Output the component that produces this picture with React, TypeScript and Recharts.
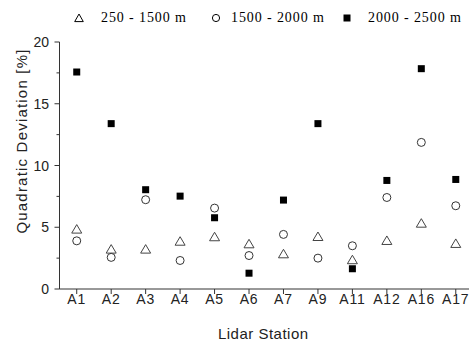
import { ComposedChart, Scatter, XAxis, YAxis } from "recharts";

const stations = ["A1", "A2", "A3", "A4", "A5", "A6", "A7", "A9", "A11", "A12", "A16", "A17"];
// quadratic deviation [%] per altitude band
const band250to1500 = [4.85, 3.23, 3.23, 3.87, 4.23, 3.66, 2.85, 4.25, 2.37, 3.93, 5.33, 3.69];
const band1500to2000 = [3.9, 2.56, 7.23, 2.31, 6.55, 2.71, 4.42, 2.5, 3.5, 7.41, 11.87, 6.74];
const band2000to2500 = [17.57, 13.39, 8.04, 7.52, 5.77, 1.28, 7.2, 13.39, 1.64, 8.79, 17.84, 8.87];
const yTicks = [0, 2.5, 5, 7.5, 10, 12.5, 15, 17.5, 20];

const rows = stations.map((s, i) => ({
  idx: i,
  station: s,
  low: band250to1500[i],
  mid: band1500to2000[i],
  high: band2000to2500[i],
}));

const sans = "'Liberation Sans', Arial, sans-serif";
const serif = "'Liberation Serif', 'Times New Roman', serif";

const Tri = (p: any) => (
  <path
    d={`M${p.cx},${p.cy - 4.5} L${p.cx + 5},${p.cy + 4} L${p.cx - 5},${p.cy + 4} Z`}
    fill="#fff"
    stroke="#444"
    strokeWidth={1}
  />
);
const Circ = (p: any) => <circle cx={p.cx} cy={p.cy} r={4} fill="#fff" stroke="#333" strokeWidth={1} />;
const Sq = (p: any) => <rect x={p.cx - 3.5} y={p.cy - 3.5} width={7} height={7} fill="#000" />;

const YTick = ({ x, y, payload }: any) => {
  const major = payload.value % 5 === 0;
  return (
    <g>
      <line x1={x - (major ? 5 : 3)} x2={x} y1={y} y2={y} stroke="#333" />
      {major && (
        <text x={x - 10.5} y={y} dy="0.36em" textAnchor="end" fontSize={14} fill="#222" fontFamily={sans}>
          {payload.value}
        </text>
      )}
    </g>
  );
};

const XTick = ({ x, y, payload }: any) => (
  <text x={x} y={y + 10} textAnchor="middle" fontSize={14} letterSpacing={0.8} fill="#222" fontFamily={sans}>
    {stations[payload.value]}
  </text>
);

const legendItems = [
  { label: "250 - 1500 m", icon: "tri", iconX: 74, textX: 101 },
  { label: "1500 - 2000 m", icon: "circ", iconX: 211, textX: 231 },
  { label: "2000 - 2500 m", icon: "sq", iconX: 342, textX: 368 },
];

function LegendIcon({ kind }: { kind: string }) {
  return (
    <svg width={10} height={10} style={{ display: "block" }}>
      {kind === "tri" && <path d="M5,1 L9.3,8.6 L0.7,8.6 Z" fill="none" stroke="#000" />}
      {kind === "circ" && <circle cx={5} cy={5} r={3.6} fill="none" stroke="#000" />}
      {kind === "sq" && <rect x={1.5} y={1.5} width={7} height={7} fill="#000" />}
    </svg>
  );
}

export default function App() {
  return (
    <div style={{ position: "absolute", left: 0, top: 0, width: 469, height: 342, overflow: "hidden", background: "#fff" }}>
      {legendItems.map((it) => (
        <div key={it.label}>
          <div style={{ position: "absolute", left: it.iconX, top: 13 }}>
            <LegendIcon kind={it.icon} />
          </div>
          <div
            style={{
              position: "absolute",
              left: it.textX,
              top: 9,
              fontFamily: serif,
              fontSize: 14,
              letterSpacing: 0.9,
              lineHeight: "18px",
              whiteSpace: "nowrap",
              color: "#000",
            }}
          >
            {it.label}
          </div>
        </div>
      ))}
      <ComposedChart width={480} height={342} data={rows} margin={{ top: 42, right: 7, left: 0, bottom: 0 }}>
        <XAxis
          xAxisId="top"
          orientation="top"
          type="number"
          domain={[-0.5, 11.5]}
          height={0}
          tick={false}
          tickLine={false}
          axisLine={{ stroke: "#999" }}
        />
        <XAxis
          dataKey="idx"
          type="number"
          domain={[-0.5, 11.5]}
          ticks={stations.map((_, i) => i)}
          height={53}
          tickSize={5}
          tickMargin={0}
          tick={<XTick />}
          tickLine={{ stroke: "#333" }}
          axisLine={{ stroke: "#333" }}
          label={(props: any) => {
            const vb = props.viewBox;
            return (
              <text x={vb.x + vb.width / 2 - 3} y={vb.y + 49.5} textAnchor="middle" fontSize={15} letterSpacing={0.5} fill="#222" fontFamily={sans}>
                Lidar Station
              </text>
            );
          }}
        />
        <YAxis
          type="number"
          domain={[0, 20]}
          ticks={yTicks}
          width={59.5}
          tickSize={0}
          tickMargin={0}
          tick={<YTick />}
          tickLine={false}
          axisLine={{ stroke: "#333" }}
          label={(props: any) => {
            const vb = props.viewBox;
            const cx = vb.x + 22;
            const cy = vb.y + 99;
            return (
              <text x={cx} y={cy} transform={`rotate(-90 ${cx} ${cy})`} dy="0.35em" textAnchor="middle" fontSize={15} letterSpacing={1.2} fill="#222" fontFamily={sans}>
                Quadratic Deviation [%]
              </text>
            );
          }}
        />
        <Scatter dataKey="low" shape={<Tri />} isAnimationActive={false} />
        <Scatter dataKey="mid" shape={<Circ />} isAnimationActive={false} />
        <Scatter dataKey="high" shape={<Sq />} isAnimationActive={false} />
      </ComposedChart>
    </div>
  );
}
